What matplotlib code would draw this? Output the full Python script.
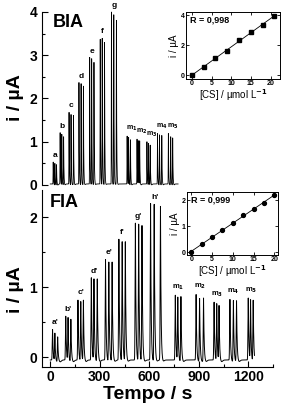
import matplotlib
matplotlib.use("Agg")
import matplotlib.pyplot as plt
import numpy as np

plt.rcParams['font.family'] = ['Liberation Sans', 'DejaVu Sans']
plt.rcParams['font.weight'] = 'bold'
plt.rcParams['mathtext.default'] = 'bf'

# ---- BIA: tempos (s) e alturas (uA) de cada pico, em triplicata ----
bia_rotulos = ["a", "b", "c", "d", "e", "f", "g",
               "m$_1$", "m$_2$", "m$_3$", "m$_4$", "m$_5$"]
bia_tempos = [[18, 28, 38], [60, 70, 81], [114, 126, 141], [174, 187, 201],
              [239, 251, 265], [303, 315, 329], [371, 385, 401],
              [466, 475, 486], [526, 534, 542], [586, 596, 606],
              [650, 662, 676], [716, 730, 742]]
bia_alturas = [[0.53, 0.52, 0.49], [1.21, 1.19, 1.13], [1.68, 1.64, 1.61],
               [2.37, 2.35, 2.29], [2.95, 2.93, 2.84], [3.37, 3.40, 3.30],
               [4.00, 3.94, 3.81], [1.13, 1.12, 1.06], [1.06, 1.04, 1.04],
               [1.00, 0.98, 0.94], [1.19, 1.17, 1.15], [1.19, 1.12, 1.10]]
bia_fim = 775

# ---- FIA ----
fia_rotulos = ["a'", "b'", "c'", "d'", "e'", "f'", "g'", "h'",
               "m$_1$", "m$_2$", "m$_3$", "m$_4$", "m$_5$"]
fia_tempos = [[14, 28, 45], [94, 108, 125], [168, 185, 201], [249, 265, 285],
              [335, 355, 375], [416, 436, 455], [516, 536, 556], [608, 630, 668],
              [758, 773, 792], [884, 905, 929], [993, 1009, 1023],
              [1089, 1110, 1129], [1200, 1214, 1230]]
fia_alturas = [[0.40, 0.37, 0.32], [0.59, 0.59, 0.57], [0.82, 0.82, 0.84],
               [1.14, 1.14, 1.14], [1.40, 1.38, 1.38], [1.69, 1.67, 1.67],
               [1.92, 1.92, 1.90], [2.20, 2.20, 2.16], [0.89, 0.88, 0.89],
               [0.90, 0.86, 0.86], [0.79, 0.79, 0.76], [0.83, 0.83, 0.83],
               [0.85, 0.84, 0.84]]
fia_fim = 1238

# ---- curvas analiticas (insets) ----
bia_conc = [0, 3, 6, 9, 12, 15, 18, 21]
bia_i = [0.0, 0.53, 1.17, 1.64, 2.33, 2.88, 3.35, 3.93]
fia_conc = [0, 2.5, 5, 7.5, 10, 12.5, 15, 17.5, 20]
fia_i = [0.0, 0.33, 0.60, 0.86, 1.14, 1.42, 1.66, 1.91, 2.19]


def sinal(tempos, alturas, fim, subida, queda, base):
    # soma de picos: subida gaussiana e queda exponencial
    t = np.arange(0, fim, 0.25)
    y = np.full_like(t, base)
    for grupo_t, grupo_h in zip(tempos, alturas):
        for t0, h in zip(grupo_t, grupo_h):
            d = t - t0
            p = np.where(d < 0, np.exp(-0.5 * (d / subida) ** 2),
                         np.exp(-np.clip(d, 0, None) / queda))
            y += (h - base) * p
            # pequena queda abaixo da linha de base depois do pico
            y -= 0.03 * np.exp(-0.5 * ((d - 4 * queda) / (2 * queda)) ** 2)
    return t, y


fig = plt.figure(figsize=(2.84, 4.04), dpi=100)
esq, larg = 42 / 284, 231 / 284
ax1 = fig.add_axes([esq, 1 - 187 / 404, larg, 179 / 404])
ax2 = fig.add_axes([esq, 1 - 367 / 404, larg, 177 / 404])

for ax in (ax1, ax2):
    ax.set_xlim(-50, 1350)
    ax.spines['top'].set_visible(False)
    ax.spines['right'].set_visible(False)
    ax.tick_params(direction='in', length=4, width=0.8, labelsize=10)
    ax.tick_params(which='minor', direction='in', length=2, width=0.8)

# BIA
t, y = sinal(bia_tempos, bia_alturas, bia_fim, 0.8, 1.8, 0.02)
ax1.plot(t, y, color='black', lw=0.6)
ax1.set_ylim(-0.05, 4.09)
ax1.spines['bottom'].set_visible(False)
ax1.spines['left'].set_bounds(0, 4)
ax1.set_xticks([])
ax1.set_yticks([0, 1, 2, 3, 4])
ax1.set_yticks(np.arange(0, 4.01, 0.5), minor=True)
for rot, gt, gh in zip(bia_rotulos, bia_tempos, bia_alturas):
    if len(rot) == 1:
        ax1.annotate(rot, (np.mean(gt), max(gh)), xytext=(0, 2),
                     textcoords='offset points', ha='center', va='bottom',
                     fontsize=6)
    else:
        ax1.annotate(rot, (gt[0], max(gh)), xytext=(-1, 2),
                     textcoords='offset points', ha='left', va='bottom',
                     fontsize=5)
ax1.text(0.048, 0.92, "BIA", transform=ax1.transAxes, fontsize=13,
         va='center', ha='left')

# FIA
t, y = sinal(fia_tempos, fia_alturas, fia_fim, 1.8, 3.5, -0.04)
ax2.plot(t, y, color='black', lw=0.7)
ax2.set_ylim(-0.14, 2.39)
ax2.set_xticks([0, 300, 600, 900, 1200])
ax2.set_xticks(np.arange(0, 1351, 150), minor=True)
ax2.set_yticks([0, 1, 2])
ax2.set_yticks(np.arange(0, 2.01, 0.5), minor=True)
ax2.tick_params(axis='x', pad=2)
for rot, gt, gh in zip(fia_rotulos, fia_tempos, fia_alturas):
    ax2.annotate(rot, (np.mean(gt), max(gh)), xytext=(0, 2),
                 textcoords='offset points', ha='center', va='bottom',
                 fontsize=6 if len(rot) == 2 else 5.5)
ax2.text(0.035, 0.93, "FIA", transform=ax2.transAxes, fontsize=13,
         va='center', ha='left')

fig.text(15 / 284, 1 - 98 / 404, "i / µA", rotation=90, fontsize=14,
         ha='center', va='center')
fig.text(15 / 284, 1 - 290 / 404, "i / µA", rotation=90, fontsize=14,
         ha='center', va='center')
fig.text(148 / 284, 1 - 399 / 404, "Tempo / s", fontsize=14,
         ha='center', va='baseline')

# insets
in1 = fig.add_axes([186 / 284, 1 - 79 / 404, 94 / 284, 67 / 404])
in2 = fig.add_axes([187 / 284, 1 - 255 / 404, 91 / 284, 63 / 404])
dados = [(in1, bia_conc, bia_i, 's', "R = 0,998", (-1.5, 22.4), (-0.25, 4.2), [0, 2, 4]),
         (in2, fia_conc, fia_i, 'o', "R = 0,999", (-1.07, 20.9), (-0.1, 2.32), [0, 1, 2])]
for ax, c, i, mk, r, xl, yl, yt in dados:
    a, b = np.polyfit(c, i, 1)
    xs = np.array([c[0], c[-1]])
    ax.plot(xs, a * xs + b, color='black', lw=0.6)
    ax.plot(c, i, mk, color='black', ms=2.8)
    ax.set_xlim(*xl)
    ax.set_ylim(*yl)
    ax.set_xticks([0, 5, 10, 15, 20])
    ax.set_yticks(yt)
    ax.tick_params(direction='in', length=2, width=0.6, labelsize=5, pad=1,
                   top=True, right=True)
    for s in ax.spines.values():
        s.set_linewidth(0.7)
    ax.set_ylabel("i / µA", fontsize=7, labelpad=1)
    ax.set_xlabel("[CS] / µmol L$^{-1}$", fontsize=7, labelpad=0)
    ax.text(0.04, 0.95, r, transform=ax.transAxes, fontsize=6.5,
            va='top', ha='left')

fig.savefig("out.png", dpi=100)
